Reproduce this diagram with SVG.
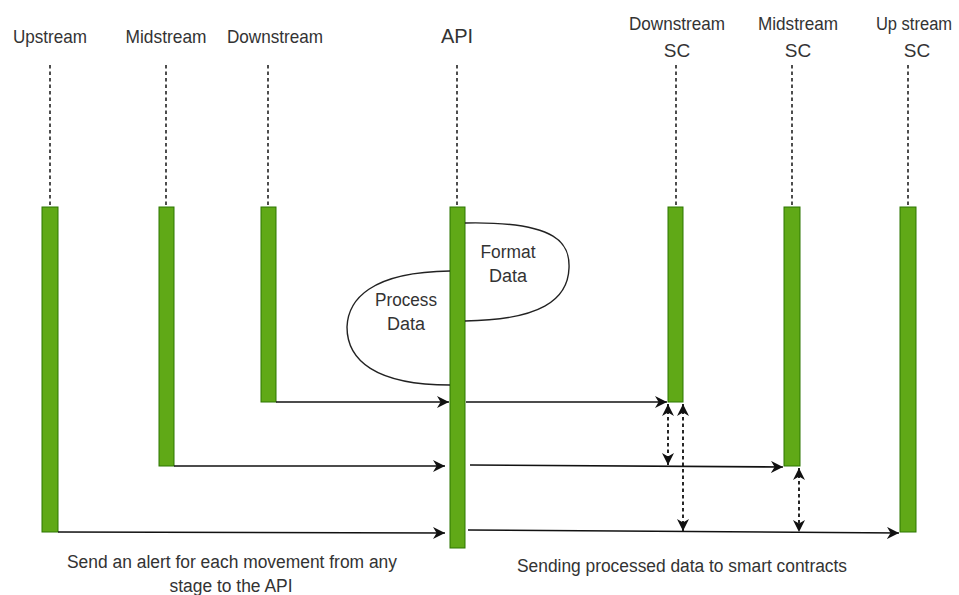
<svg xmlns="http://www.w3.org/2000/svg" width="959" height="595" viewBox="0 0 959 595">
  <style>
    .lbl { font-family: "Liberation Sans", Arial, sans-serif; font-size: 19px; fill: #333; text-anchor: middle; }
    .small { font-size: 18px; }
    .life { stroke: #222; stroke-width: 1.6; stroke-dasharray: 3.5 3; fill: none; }
    .bar { fill: #60a917; stroke: #2d7600; stroke-width: 1; }
    .msg { stroke: #111; stroke-width: 1.6; fill: none; }
    .link { stroke: #111; stroke-width: 1.8; fill: none; stroke-dasharray: 3.5 3; }
    .loop { stroke: #222; stroke-width: 1.4; fill: none; }
  </style>
  <defs>
    <marker id="arr" viewBox="0 0 10 10" refX="10" refY="5" markerWidth="12" markerHeight="12" markerUnits="userSpaceOnUse" orient="auto-start-reverse">
      <path d="M0,0 L10,5 L0,10 L3,5 z" fill="#111"/>
    </marker>
  </defs>
  <rect width="959" height="595" fill="#fff"/>

  <!-- lifelines -->
  <g id="upstream">
    <text class="lbl" x="50" y="43" textLength="74" lengthAdjust="spacingAndGlyphs">Upstream</text>
    <line class="life" x1="50" y1="65" x2="50" y2="207"/>
    <rect class="bar" x="42" y="207" width="16" height="325"/>
  </g>
  <g id="midstream">
    <text class="lbl" x="166" y="43" textLength="81" lengthAdjust="spacingAndGlyphs">Midstream</text>
    <line class="life" x1="166" y1="65" x2="166" y2="207"/>
    <rect class="bar" x="159" y="207" width="15" height="259"/>
  </g>
  <g id="downstream">
    <text class="lbl" x="275" y="43" textLength="96" lengthAdjust="spacingAndGlyphs">Downstream</text>
    <line class="life" x1="268" y1="65" x2="268" y2="207"/>
    <rect class="bar" x="261" y="207" width="15" height="195"/>
  </g>
  <g id="api">
    <text class="lbl" x="457" y="43" style="font-size:20px">API</text>
    <line class="life" x1="457" y1="65" x2="457" y2="207"/>
    <rect class="bar" x="450" y="207" width="15" height="341"/>
  </g>
  <g id="downstream-sc">
    <text class="lbl" x="677" y="30" textLength="96" lengthAdjust="spacingAndGlyphs">Downstream</text>
    <text class="lbl" x="677" y="57">SC</text>
    <line class="life" x1="676" y1="65" x2="676" y2="207"/>
    <rect class="bar" x="668" y="207" width="15" height="195"/>
  </g>
  <g id="midstream-sc">
    <text class="lbl" x="798" y="30" textLength="80" lengthAdjust="spacingAndGlyphs">Midstream</text>
    <text class="lbl" x="798" y="57">SC</text>
    <line class="life" x1="792" y1="65" x2="792" y2="207"/>
    <rect class="bar" x="784" y="207" width="16" height="259"/>
  </g>
  <g id="upstream-sc">
    <text class="lbl" transform="translate(914,30) scale(0.87,1)">Up stream</text>
    <text class="lbl" x="917" y="57">SC</text>
    <line class="life" x1="908" y1="65" x2="908" y2="207"/>
    <rect class="bar" x="900" y="207" width="16" height="325"/>
  </g>

  <!-- self loops on the API -->
  <g id="format-data">
    <path class="loop" d="M465,223 C560,221 570,245 569,268 C568,300 540,320 465,321"/>
    <text class="lbl small" x="508" y="258" textLength="55" lengthAdjust="spacingAndGlyphs">Format</text>
    <text class="lbl small" x="508" y="282">Data</text>
  </g>
  <g id="process-data">
    <path class="loop" d="M450,271 C370,272 348,300 347,327 C347,360 375,385 450,385"/>
    <text class="lbl small" x="406" y="306" textLength="62" lengthAdjust="spacingAndGlyphs">Process</text>
    <text class="lbl small" x="406" y="330">Data</text>
  </g>

  <!-- messages -->
  <g id="connectors">
    <line class="msg" x1="276" y1="402" x2="449" y2="402" marker-end="url(#arr)"/>
    <line class="msg" x1="466" y1="402" x2="667" y2="402" marker-end="url(#arr)"/>
    <line class="msg" x1="174" y1="466" x2="445" y2="466" marker-end="url(#arr)"/>
    <line class="msg" x1="470" y1="465" x2="783" y2="467" marker-end="url(#arr)"/>
    <line class="msg" x1="58" y1="532" x2="445" y2="533" marker-end="url(#arr)"/>
    <line class="msg" x1="468" y1="530" x2="899" y2="533" marker-end="url(#arr)"/>

    <line class="link" x1="668" y1="404" x2="668" y2="465" marker-start="url(#arr)" marker-end="url(#arr)"/>
    <line class="link" x1="683" y1="404" x2="683" y2="531" marker-start="url(#arr)" marker-end="url(#arr)"/>
    <line class="link" x1="799" y1="468" x2="799" y2="532" marker-start="url(#arr)" marker-end="url(#arr)"/>
  </g>

  <!-- captions -->
  <g id="captions">
    <text class="lbl small" x="232" y="568" textLength="330" lengthAdjust="spacingAndGlyphs">Send an alert for each movement from any</text>
    <text class="lbl small" x="231" y="592" textLength="123" lengthAdjust="spacingAndGlyphs">stage to the API</text>
    <text class="lbl small" x="682" y="572" textLength="330" lengthAdjust="spacingAndGlyphs">Sending processed data to smart contracts</text>
  </g>
</svg>
